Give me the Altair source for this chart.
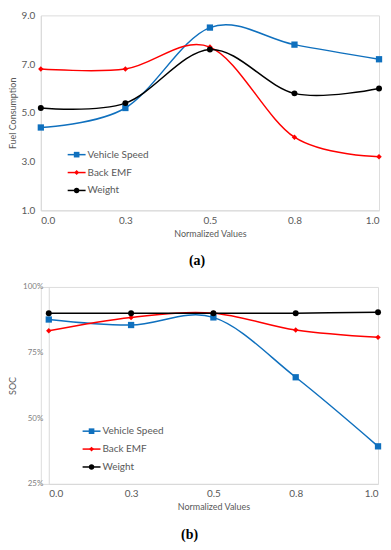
import altair as alt
import pandas as pd

# ---------------- data ----------------
x_values = [0.0, 0.25, 0.5, 0.75, 1.0]
series_names = ["Vehicle Speed", "Back EMF", "Weight"]
series_colors = ["#0F70BE", "#FF0000", "#000000"]

fuel_vehicle_speed = [4.4, 5.2, 8.5, 7.8, 7.2]
fuel_back_emf = [6.8, 6.8, 7.7, 4.0, 3.2]
fuel_weight = [5.2, 5.4, 7.6, 5.8, 6.0]

soc_vehicle_speed = [87.6, 85.5, 88.4, 65.6, 39.3]
soc_back_emf = [83.3, 88.4, 90.0, 83.6, 80.8]
soc_weight = [90.0, 90.0, 90.0, 90.0, 90.4]

fuel_ticks = [1, 3, 5, 7, 9]
soc_ticks = [25, 50, 75, 100]

marker_shapes = ["square", "diamond", "circle"]
marker_sizes = [40, 30, 36]


def long_frame(vals_list):
    rows = []
    for name, vals in zip(series_names, vals_list):
        for x, v in zip(x_values, vals):
            rows.append({"x": x, "value": v, "series": name})
    return pd.DataFrame(rows)


fuel_df = long_frame([fuel_vehicle_speed, fuel_back_emf, fuel_weight])
soc_df = long_frame([soc_vehicle_speed, soc_back_emf, soc_weight])
legend_df = pd.DataFrame({"series": series_names})

FONT = "Lato"
GREY = "#595959"


def panel(df, ytitle, ydomain, yticks, ylabel_expr, ylabel_size, ylabel_color,
          yextent, ytitle_pad, yoffset, x_range, width, height,
          caption, caption_dx, legend_x, legend_y):
    x = alt.X(
        "x:Q",
        scale=alt.Scale(domain=[0, 1], range=x_range, nice=False, zero=False),
        axis=alt.Axis(values=x_values, format=".1f", title="Normalized Values",
                      labelFontSize=10, labelColor=GREY, labelPadding=5,
                      titleFontSize=9, titleColor=GREY, titleFontWeight="normal",
                      titlePadding=4, labelFont=FONT, titleFont=FONT,
                      ticks=False, grid=False, domainColor="#D9D9D9"),
    )
    y = alt.Y(
        "value:Q",
        scale=alt.Scale(domain=ydomain, nice=False, zero=False),
        axis=alt.Axis(values=yticks, labelExpr=ylabel_expr, title=ytitle,
                      labelFontSize=ylabel_size, labelColor=ylabel_color,
                      labelPadding=6, minExtent=yextent, maxExtent=yextent,
                      offset=yoffset,
                      titleFontSize=9, titleColor=GREY, titleFontWeight="normal",
                      titlePadding=ytitle_pad, labelFont=FONT, titleFont=FONT,
                      ticks=False, grid=False, domainColor="#D9D9D9"),
    )
    base = alt.Chart(df).encode(x=x, y=y)
    lines = base.mark_line(interpolate="cardinal", strokeWidth=1.5).encode(
        color=alt.Color("series:N",
                        scale=alt.Scale(domain=series_names, range=series_colors),
                        legend=None),
    )
    layers = [lines]
    for name, col, shp, sz in zip(series_names, series_colors, marker_shapes, marker_sizes):
        layers.append(
            base.transform_filter(alt.datum.series == name).mark_point(
                shape=shp, filled=True, size=sz, opacity=1, color=col
            )
        )
    # legend (drawn inside the plot, lower left)
    lbase = alt.Chart(legend_df)
    for i, (name, col, shp, sz) in enumerate(
            zip(series_names, series_colors, marker_shapes, marker_sizes)):
        yy = legend_y + 18 * i
        sel = lbase.transform_filter(alt.datum.series == name)
        layers.append(sel.mark_rule(color=col, strokeWidth=1.5).encode(
            x=alt.value(legend_x), x2=alt.value(legend_x + 18), y=alt.value(yy)))
        layers.append(sel.mark_point(shape=shp, filled=True, size=sz * 0.8,
                                     opacity=1, color=col).encode(
            x=alt.value(legend_x + 9), y=alt.value(yy)))
        layers.append(sel.mark_text(align="left", baseline="middle", font=FONT,
                                    fontSize=10, color=GREY).encode(
            x=alt.value(legend_x + 20), y=alt.value(yy), text="series:N"))
    return alt.layer(*layers).properties(
        width=width, height=height,
        title=alt.TitleParams(caption, orient="bottom", anchor="middle",
                              font="Liberation Serif", fontSize=14,
                              fontWeight="bold", color="#000000",
                              offset=16, dx=caption_dx),
    )


top = panel(fuel_df, "Fuel Consumption", [1, 9], fuel_ticks,
            "format(datum.value, '.1f')", 10, GREY, 20, 3, 0, [0, 340],
            340, 196, "(a)", -13, 27, 140)
bottom = panel(soc_df, "SOC", [25, 100], soc_ticks,
               "datum.value + '%'", 8, "#7F7F7F", 26, 5, -8, [8, 339],
               339, 198, "(b)", -20, 42, 145)

chart = alt.vconcat(top, bottom, spacing=13).resolve_scale(
    color="independent"
).properties(padding=0).configure_view(stroke=None).configure(background="#FFFFFF")

chart.save("out.html", embed_options={"renderer": "svg", "actions": False})
